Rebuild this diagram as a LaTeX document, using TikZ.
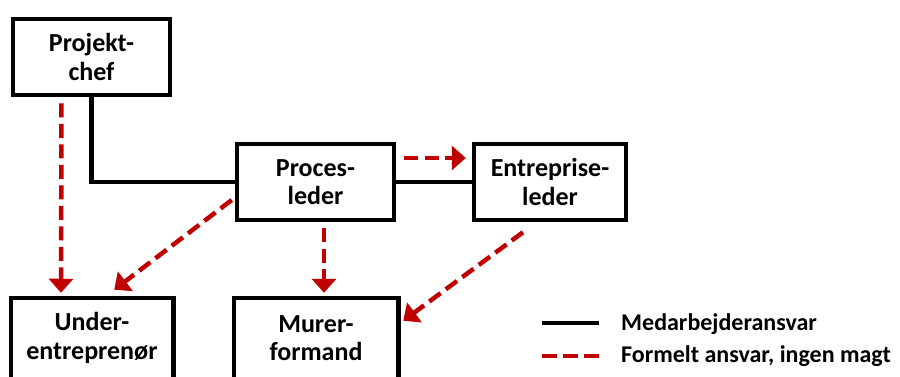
\documentclass[tikz,border=0pt]{standalone}
\usepackage{fontspec}
\setmainfont{Carlito}
\usetikzlibrary{arrows.meta}
\definecolor{dashred}{HTML}{C00000}
\tikzset{
  orgbox/.style={draw=black, line width=4.5pt, fill=white, minimum width=157pt,
    minimum height=76pt, align=center, inner sep=0pt,
    font=\bfseries\fontsize{26}{28.5}\selectfont},
  openbox/.style={orgbox, draw=none},
  boxline/.style={draw=black, line width=4.5pt},
  solidlink/.style={draw=black, line width=4.5pt},
  dashlink/.style={draw=dashred, line width=4.5pt, dash pattern=on 14pt off 6.5pt},
  dasharrow/.style={dashlink, -{Triangle[width=24pt,length=14pt]}},
  legendtext/.style={anchor=west, inner sep=0pt, font=\bfseries\fontsize{24}{28}\selectfont}
}
\begin{document}
\begin{tikzpicture}[x=1pt, y=-1pt]
\useasboundingbox (0,0) rectangle (900,376);

% boxes
\node[orgbox] (proj) at (91.5,57) {Projekt-\\chef};
\node[orgbox] (proc) at (315.5,182) {Proces-\\leder};
\node[orgbox, minimum width=152pt] (entr) at (550,182) {Entreprise-\\leder};
\node[openbox, minimum width=158pt] (under) at (92,338) {Under-\\entreprenør};
\node[openbox, minimum width=160pt] (murer) at (316,338) {Murer-\\formand};
% the lower boxes run on past the bottom edge
\draw[boxline] (under.north west) rectangle ([yshift=-20pt]under.south east);
\draw[boxline] (murer.north west) rectangle ([yshift=-20pt]murer.south east);

% employee responsibility
\draw[solidlink] (proj.south) |- (proc.west);
\draw[solidlink] (proc.east) -- (entr.west);

% formal responsibility without power
\draw[dasharrow] ([xshift=-30pt,yshift=-6pt]proj.south) -- ([xshift=-31pt,yshift=5pt]under.north);
\draw[dasharrow] ([xshift=8pt,yshift=24pt]proc.east) -- ([xshift=-6pt,yshift=24pt]entr.west);
\draw[dasharrow] ([xshift=8.5pt,yshift=-6pt]proc.south) -- ([xshift=8pt,yshift=5pt]murer.north);
\draw[dasharrow] ([xshift=-3pt,yshift=-18pt]proc.west) -- ([xshift=-59pt,yshift=8pt]under.north east);
\draw[dasharrow] ([xshift=-27pt,yshift=-10pt]entr.south) -- ([xshift=5pt,yshift=-23pt]murer.north east);

% legend
\coordinate (sa) at (542,323);
\coordinate (sb) at (599,323);
\coordinate (da) at (542,356);
\coordinate (db) at (599,356);
\draw[solidlink] (sa) -- (sb);
\draw[dashlink, dash pattern=on 15pt off 6pt] (da) -- (db);
\node[legendtext] (l1) at (621,324) {Medarbejderansvar};
\node[legendtext] (l2) at (621,356) {Formelt ansvar, ingen magt};
\end{tikzpicture}
\end{document}
